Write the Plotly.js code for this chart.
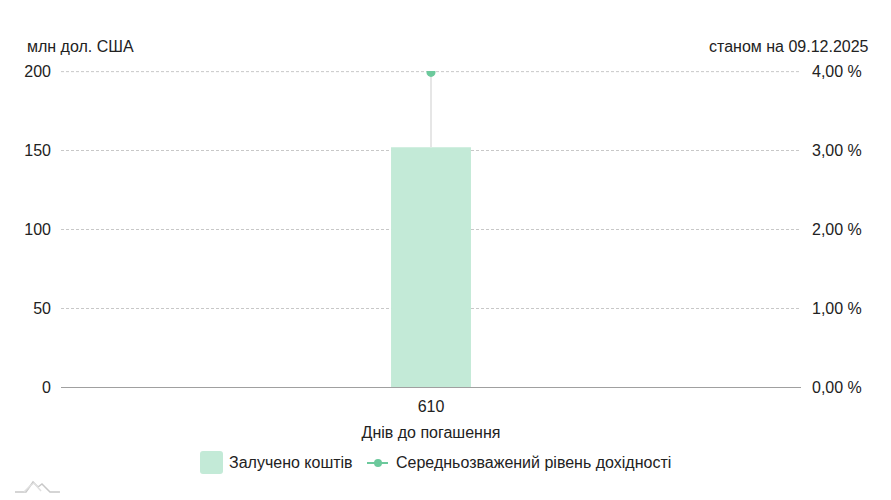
<!DOCTYPE html>
<html>
<head>
<meta charset="utf-8">
<script src="https://cdn.plot.ly/plotly-3.0.1.min.js"></script>
<style>html,body{margin:0;padding:0;background:#fff;}#chart{width:891px;height:500px;}</style>
</head>
<body>
<div id="chart"></div>
<script>
const categories = ["610"];
const raised = [152];
const yieldPct = [3.99];
const leftTicks = [0, 50, 100, 150, 200];
const rightTicks = [0, 1, 2, 3, 4];
const seriesNames = ["Залучено коштів", "Середньозважений рівень дохідності"];

const leftMax = 200, rightMax = 4;
const rangePad = 1.002;
const dropMinus = yieldPct.map((v, i) => v - raised[i] * rightMax / leftMax);

const font = {family: "Liberation Sans, Arial, sans-serif", size: 16, color: "#222"};
const barColor = "#c3ead7", lineColor = "#6cc99c";
const gridStyle = {color: "#c8c8c8", width: 1, dash: "3px,2px"};

// plot area in pixels (for decorations only)
const L = 61, R = 801, T = 71, B = 387;
const px = x => (x - L) / (R - L);
const py = y => (B - y) / (B - T);

const traces = [
  {
    type: "bar", x: categories, y: raised, name: seriesNames[0],
    marker: {color: barColor}, width: 0.108, showlegend: false
  },
  {
    type: "scatter", mode: "markers", x: categories, y: yieldPct, yaxis: "y2",
    name: seriesNames[1], showlegend: false,
    marker: {color: lineColor, size: 9},
    error_y: {type: "data", symmetric: false, array: [0], arrayminus: dropMinus,
              color: "#e6e6e6", thickness: 2, width: 0}
  }
];

function logoPath(pts) {
  return pts.map((p, i) => (i ? "L " : "M ") + px(p[0]).toFixed(4) + " " + py(p[1]).toFixed(4)).join(" ");
}

const layout = {
  width: 891, height: 500,
  margin: {l: L, r: 891 - R, t: T, b: 500 - B},
  paper_bgcolor: "#fff", plot_bgcolor: "#fff",
  font: font,
  showlegend: false,
  xaxis: {
    type: "category", range: [-0.5, 0.5], showgrid: false, zeroline: false,
    showline: false, ticks: "", tickfont: font, ticklabelstandoff: 8,
    title: {text: "Днів до погашення", font: font, standoff: 12}
  },
  yaxis: {
    range: [0, leftMax * rangePad], tickvals: leftTicks, ticktext: leftTicks.map(String),
    showgrid: true, gridcolor: gridStyle.color, griddash: gridStyle.dash, gridwidth: 1,
    zeroline: true, zerolinecolor: "#a0a0a0", zerolinewidth: 1,
    tickfont: font, ticks: "", ticklabelstandoff: 9, automargin: false
  },
  yaxis2: {
    overlaying: "y", side: "right", range: [0, rightMax * rangePad], tickvals: rightTicks,
    ticktext: rightTicks.map(v => v.toFixed(2).replace(".", ",") + " %"),
    showgrid: false, zeroline: false, ticks: "", ticklabelstandoff: 10,
    tickfont: font, automargin: false
  },
  annotations: [
    {text: "млн дол. США", xref: "paper", yref: "paper", x: px(25), y: py(46), xanchor: "left", yanchor: "middle",
     showarrow: false, font: font},
    {text: "станом на 09.12.2025", xref: "paper", yref: "paper", x: px(871), y: py(46), xanchor: "right", yanchor: "middle",
     showarrow: false, font: font},
    {text: seriesNames[0], xref: "paper", yref: "paper", x: px(227), y: py(462), xanchor: "left", yanchor: "middle",
     showarrow: false, font: font},
    {text: seriesNames[1], xref: "paper", yref: "paper", x: px(394), y: py(462), xanchor: "left", yanchor: "middle",
     showarrow: false, font: font}
  ],
  shapes: [
    {type: "line", xref: "paper", yref: "y", layer: "below", x0: 0, x1: 1,
     y0: leftTicks[leftTicks.length - 1], y1: leftTicks[leftTicks.length - 1], line: gridStyle},
    {type: "path", xref: "paper", yref: "paper", fillcolor: barColor, line: {width: 0},
     path: "M " + px(203) + " " + py(451) + " L " + px(220) + " " + py(451) +
           " Q " + px(223) + " " + py(451) + " " + px(223) + " " + py(454) +
           " L " + px(223) + " " + py(471) + " Q " + px(223) + " " + py(474) + " " + px(220) + " " + py(474) +
           " L " + px(203) + " " + py(474) + " Q " + px(200) + " " + py(474) + " " + px(200) + " " + py(471) +
           " L " + px(200) + " " + py(454) + " Q " + px(200) + " " + py(451) + " " + px(203) + " " + py(451) + " Z"},
    {type: "line", xref: "paper", yref: "paper", x0: px(367), x1: px(388), y0: py(463), y1: py(463),
     line: {color: lineColor, width: 2}},
    {type: "circle", xref: "paper", yref: "paper", x0: px(374), x1: px(382), y0: py(459), y1: py(467),
     fillcolor: lineColor, line: {width: 0}},
    {type: "path", xref: "paper", yref: "paper", line: {color: "#c8c8c8", width: 1.5},
     path: logoPath([[15, 492], [26, 492], [33, 482], [38, 487], [42, 484], [50, 492], [60, 492]])},
    {type: "path", xref: "paper", yref: "paper", line: {color: "#e0e0e0", width: 1.5},
     path: logoPath([[24, 492], [30, 486], [34, 483], [41, 491]])}
  ]
};

Plotly.newPlot("chart", traces, layout, {displayModeBar: false, staticPlot: true});
</script>
</body>
</html>
